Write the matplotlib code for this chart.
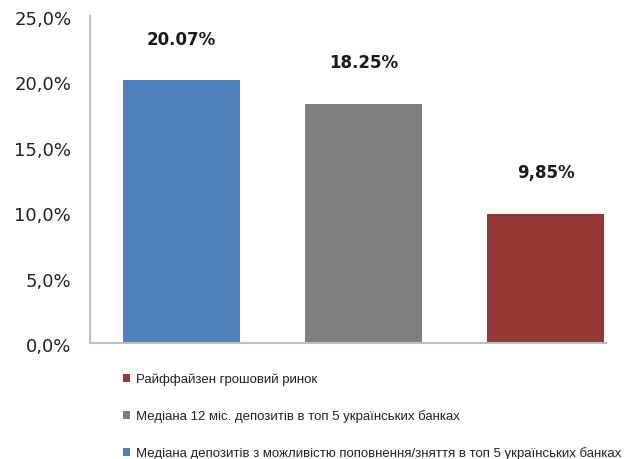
import matplotlib.pyplot as plt
from matplotlib.ticker import FuncFormatter
from matplotlib.transforms import ScaledTranslation

# дані з графіка
categories = ['Медіана депозитів з можливістю поповнення/зняття в топ 5 українських банках',
              'Медіана 12 міс. депозитів в топ 5 українських банках',
              'Райффайзен грошовий ринок']
values = [20.07, 18.25, 9.85]
value_labels = ['20.07%', '18.25%', '9,85%']
colors = ['#4F81BD', '#7F7F7F', '#953735']
y_ticks = [0, 5, 10, 15, 20, 25]

fig = plt.figure(figsize=(6.3, 4.59), dpi=100)
ax = fig.add_axes([90 / 630, 116 / 459, 547 / 630, 327 / 459])

bars = []
for i, (cat, v, c) in enumerate(zip(categories, values, colors)):
    b = ax.bar(i, v, width=0.64, color=c, label=cat)
    bars.append(b)
    ax.annotate(value_labels[i], (i, v), xytext=(0, 29.5), textcoords='offset points',
                ha='center', va='center', fontsize=12, fontweight='bold',
                color='#1a1a1a')

ax.set_xlim(-0.5, 2.5)
ax.set_ylim(0, 25)
ax.set_yticks(y_ticks)
ax.yaxis.set_major_formatter(FuncFormatter(lambda v, p: f'{v:.1f}%'.replace('.', ',')))
ax.set_xticks([])
ax.tick_params(axis='y', length=0, labelsize=13, pad=13.5, labelcolor='#222222')
# підписи осі трохи нижче, як в оригіналі
for lbl in ax.get_yticklabels():
    lbl.set_transform(lbl.get_transform() + ScaledTranslation(0, -2 / 100, fig.dpi_scale_trans))
for s in ['top', 'right']:
    ax.spines[s].set_visible(False)
for s in ['left', 'bottom']:
    ax.spines[s].set_color('#BFBFBF')
    ax.spines[s].set_linewidth(1.5)
ax.spines['bottom'].set_bounds(-0.5, 2.33)

# легенда: у зворотному порядку
handles = [bars[2], bars[1], bars[0]]
fig.legend(handles, [categories[2], categories[1], categories[0]],
           loc='upper left', bbox_to_anchor=(123 / 630, 1 - 373 / 459),
           frameon=False, ncol=1, labelspacing=1.83,
           handlelength=0.55, handleheight=0.55, handletextpad=0.45,
           borderpad=0, borderaxespad=0, labelcolor='#222222',
           prop={'family': 'Liberation Sans', 'size': 9.5})

plt.savefig('out.png', dpi=100)
